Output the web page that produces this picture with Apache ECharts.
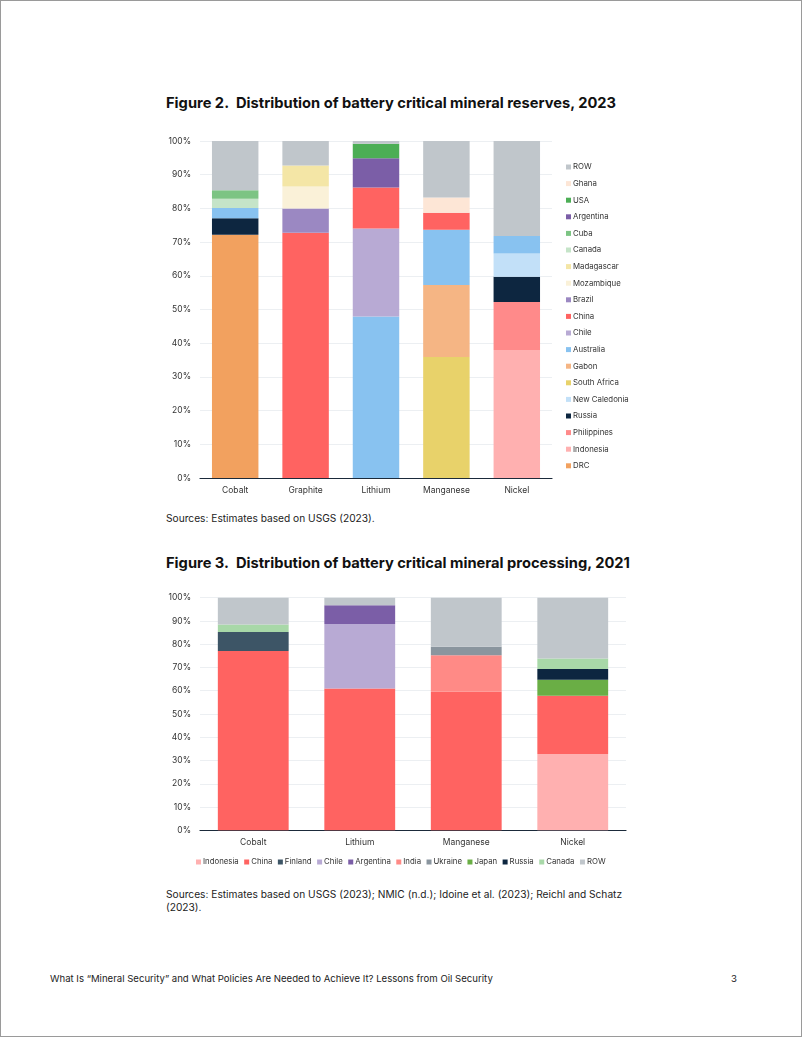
<!DOCTYPE html>
<html>
<head>
<meta charset="utf-8">
<script src="https://cdn.jsdelivr.net/npm/echarts@6/dist/echarts.min.js"></script>
<style>
  html, body { margin: 0; padding: 0; background: #fff; }
  body { width: 802px; height: 1037px; position: relative; overflow: hidden; font-family: Inter, "Noto Sans", sans-serif; color: #111; }
  .page { position: absolute; left: 0; top: 0; width: 800px; height: 1035px; border: 1px solid #9a9a9a; }
  .title { position: absolute; left: 166px; font-weight: 700; font-size: 14.7px; line-height: 20px; letter-spacing: 0px; white-space: nowrap; color: #111; }
  .src { position: absolute; left: 166px; font-size: 10.2px; line-height: 12.7px; color: #222; }
  .foot { position: absolute; font-size: 9.6px; line-height: 12px; color: #222; white-space: nowrap; }
  .chart { position: absolute; left: 0; width: 802px; }
</style>
</head>
<body>
<div class="page"></div>
<div class="title" style="top:93px;">Figure 2.&nbsp; Distribution of battery critical mineral reserves, 2023</div>
<div class="chart" id="c1" style="top:130px;height:372px;"></div>
<div class="src" style="top:512px;">Sources: Estimates based on USGS (2023).</div>
<div class="title" style="top:553px;">Figure 3.&nbsp; Distribution of battery critical mineral processing, 2021</div>
<div class="chart" id="c2" style="top:585px;height:290px;"></div>
<div class="src" style="top:888px;width:470px;">Sources: Estimates based on USGS (2023); NMIC (n.d.); Idoine et al. (2023); Reichl and Schatz (2023).</div>
<div class="foot" style="left:50px;top:973px;">What Is “Mineral Security” and What Policies Are Needed to Achieve It? Lessons from Oil Security</div>
<div class="foot" style="left:731px;top:973px;">3</div>
<script>
// ---------- Figure 2 data (reserves, 2023), % share ----------
const fig2Categories = ['Cobalt', 'Graphite', 'Lithium', 'Manganese', 'Nickel'];
//                      Cobalt Graphite Lithium Manganese Nickel
const fig2DRC          = [72.2, null, null, null, null];
const fig2Indonesia    = [null, null, null, null, 38.0];
const fig2Philippines  = [null, null, null, null, 14.2];
const fig2Russia       = [4.9, null, null, null, 7.5];
const fig2NewCaledonia = [null, null, null, null, 6.9];
const fig2SouthAfrica  = [null, null, null, 35.9, null];
const fig2Gabon        = [null, null, null, 21.4, null];
const fig2Australia    = [3.0, null, 47.9, 16.4, 5.2];
const fig2Chile        = [null, null, 26.1, null, null];
const fig2China        = [null, 72.8, 12.2, 5.0, null];
const fig2Brazil       = [null, 7.2, null, null, null];
const fig2Mozambique   = [null, 6.5, null, null, null];
const fig2Madagascar   = [null, 6.2, null, null, null];
const fig2Canada       = [2.8, null, null, null, null];
const fig2Cuba         = [2.5, null, null, null, null];
const fig2Argentina    = [null, null, 8.7, null, null];
const fig2USA          = [null, null, 4.3, null, null];
const fig2Ghana        = [null, null, null, 4.5, null];
const fig2ROW          = [14.6, 7.3, 0.8, 16.8, 28.2];

// ---------- Figure 3 data (processing, 2021), % share ----------
const fig3Categories = ['Cobalt', 'Lithium', 'Manganese', 'Nickel'];
//                      Cobalt Lithium Manganese Nickel
const fig3Indonesia = [null, null, null, 32.8];
const fig3China     = [77.1, 61.0, 59.6, 25.0];
const fig3Finland   = [8.2, null, null, null];
const fig3Chile     = [null, 27.7, null, null];
const fig3Argentina = [null, 8.1, null, null];
const fig3India     = [null, null, 15.7, null];
const fig3Ukraine   = [null, null, 3.6, null];
const fig3Japan     = [null, null, null, 6.9];
const fig3Russia    = [null, null, null, 4.6];
const fig3Canada    = [3.2, null, null, 4.6];
const fig3ROW       = [11.5, 3.2, 21.1, 26.1];

const yTicks = [0, 10, 20, 30, 40, 50, 60, 70, 80, 90, 100];

const colors = {
  DRC: '#f2a15f', Indonesia: '#ffb0b0', Philippines: '#ff8a8a', Russia: '#0d2640',
  'New Caledonia': '#c2e0f8', 'South Africa': '#e8d26a', Gabon: '#f5b584',
  Australia: '#88c2f0', Chile: '#b8aad4', China: '#ff6361', Brazil: '#9b88c2',
  Mozambique: '#faf1d8', Madagascar: '#f4e6a6', Canada: '#c5e4c8', Cuba: '#7cc483',
  Argentina: '#7b5ea7', USA: '#4cae55', Ghana: '#fde6d6', ROW: '#c0c6cb',
  Finland: '#3d5566', India: '#ff8a86', Ukraine: '#8a959e', Japan: '#6aae45'
};
const fig3Colors = Object.assign({}, colors, { Canada: '#a8d8a8' });

const fig2Series = [
  ['DRC', fig2DRC], ['Indonesia', fig2Indonesia], ['Philippines', fig2Philippines],
  ['Russia', fig2Russia], ['New Caledonia', fig2NewCaledonia], ['South Africa', fig2SouthAfrica],
  ['Gabon', fig2Gabon], ['Australia', fig2Australia], ['Chile', fig2Chile], ['China', fig2China],
  ['Brazil', fig2Brazil], ['Mozambique', fig2Mozambique], ['Madagascar', fig2Madagascar],
  ['Canada', fig2Canada], ['Cuba', fig2Cuba], ['Argentina', fig2Argentina], ['USA', fig2USA],
  ['Ghana', fig2Ghana], ['ROW', fig2ROW]
];
const fig3Series = [
  ['Indonesia', fig3Indonesia], ['China', fig3China], ['Finland', fig3Finland],
  ['Chile', fig3Chile], ['Argentina', fig3Argentina], ['India', fig3India],
  ['Ukraine', fig3Ukraine], ['Japan', fig3Japan], ['Russia', fig3Russia],
  ['Canada', fig3Canada], ['ROW', fig3ROW]
];

const FONT = 'Inter, "Noto Sans", sans-serif';

function yAxisCfg() {
  return {
    type: 'value', min: yTicks[0], max: yTicks[yTicks.length - 1], interval: yTicks[1] - yTicks[0],
    axisLabel: { formatter: '{value}%', fontSize: 8.5, color: '#333', fontFamily: FONT, margin: 9 },
    axisLine: { show: false }, axisTick: { show: false },
    splitLine: { lineStyle: { color: '#eceff2', width: 1 } }
  };
}
function xAxisCfg(cats) {
  return {
    type: 'category', data: cats,
    axisLabel: { fontSize: 8.5, color: '#333', fontFamily: FONT, margin: 8 },
    axisLine: { lineStyle: { color: '#1b2a3a', width: 1.2 } }, axisTick: { show: false }
  };
}
function mkSeries(list, cmap, bw) {
  return list.map(([name, data]) => ({
    name, type: 'bar', stack: 'total', data, barWidth: bw,
    itemStyle: { color: cmap[name] }, emphasis: { disabled: true }
  }));
}

const c1 = echarts.init(document.getElementById('c1'), null, { renderer: 'canvas' });
c1.setOption({
  animation: false,
  grid: { left: 200, right: 250, top: 11, bottom: 24 },
  xAxis: xAxisCfg(fig2Categories),
  yAxis: yAxisCfg(),
  legend: {
    orient: 'vertical', left: 566, top: 32, padding: 0, itemWidth: 5, itemHeight: 5, itemGap: 6.6,
    icon: 'rect', selectedMode: false,
    data: fig2Series.map(s => s[0]).slice().reverse(),
    textStyle: { fontSize: 7.8, color: '#333', fontFamily: FONT, lineHeight: 10, padding: [0, 0, 0, -3] }
  },
  series: mkSeries(fig2Series, colors, '66%')
});

const c2 = echarts.init(document.getElementById('c2'), null, { renderer: 'canvas' });
c2.setOption({
  animation: false,
  grid: { left: 200, right: 176, top: 12.7, bottom: 44.7 },
  xAxis: xAxisCfg(fig3Categories),
  yAxis: yAxisCfg(),
  legend: {
    orient: 'horizontal', left: 196, top: 273, padding: 0, itemWidth: 5, itemHeight: 5, itemGap: 5.5,
    icon: 'rect', selectedMode: false,
    data: fig3Series.map(s => s[0]),
    textStyle: { fontSize: 7.8, color: '#333', fontFamily: FONT, padding: [0, 0, 0, -3] }
  },
  series: mkSeries(fig3Series, fig3Colors, '66.5%')
});
</script>
</body>
</html>
